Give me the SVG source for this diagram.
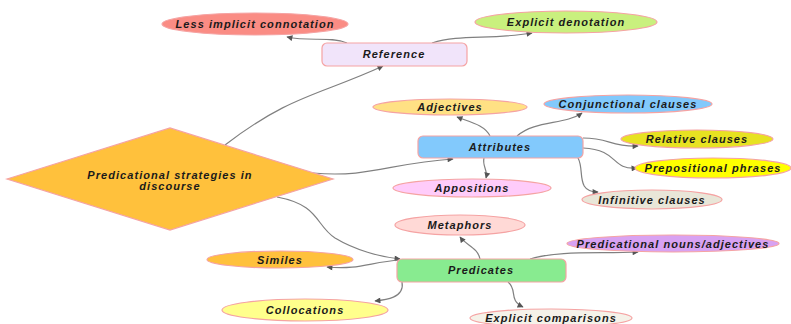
<svg xmlns="http://www.w3.org/2000/svg" width="791" height="324" viewBox="0 0 791 324">
<defs>
<style>
.n{stroke:#F5A3A3;stroke-width:1.2}
.t{font-family:"Liberation Sans",Arial,sans-serif;font-weight:bold;font-style:italic;font-size:11px;fill:#1a1a1a;text-anchor:middle;letter-spacing:1.05px}
.c{fill:none;stroke:#808080;stroke-width:1.2;marker-end:url(#ah)}
</style>
<marker id="ah" viewBox="0 0 10 10" refX="9" refY="5" markerWidth="7" markerHeight="6" orient="auto" markerUnits="userSpaceOnUse">
<path d="M0,0 L10,5 L0,10 z" fill="#555"/>
</marker>
</defs>
<rect width="791" height="324" fill="#fff"/>
<g id="connectors">
<path class="c" d="M225,145 C290,95 320,95 383,66"/>
<path class="c" d="M347,43 C330,36 310,42 287,37"/>
<path class="c" d="M432,43 C460,34 490,40 532,33"/>
<path class="c" d="M313,173 C370,178 390,163 453,159"/>
<path class="c" d="M490,136 C485,125 470,122 457,117"/>
<path class="c" d="M517,136 C535,120 565,125 582,113"/>
<path class="c" d="M583,138 C610,138 610,147 638,146"/>
<path class="c" d="M583,148 C620,150 610,170 637,168"/>
<path class="c" d="M484,158 C482,166 488,170 486,178"/>
<path class="c" d="M578,158 C585,170 575,192 598,192"/>
<path class="c" d="M277,197 C320,205 315,225 335,238 C355,250 380,257 400,259"/>
<path class="c" d="M480,259 C478,248 466,245 460,237"/>
<path class="c" d="M400,260 C370,262 360,270 327,267"/>
<path class="c" d="M402,282 C405,298 385,300 375,301"/>
<path class="c" d="M508,282 C518,290 508,300 523,307"/>
<path class="c" d="M530,259 C560,250 600,254 638,252"/>
</g>
<g id="diamond">
<polygon class="n" points="7,179 170,128 333,179 170,230" fill="#FFC13C"/>
<text class="t" x="170" y="179">Predicational strategies in</text>
<text class="t" x="170" y="190">discourse</text>
</g>
<g id="reference">
<rect class="n" x="322" y="43" width="145" height="23" rx="5" fill="#F1E4FA"/>
<text class="t" x="394" y="58">Reference</text>
</g>
<g id="less-implicit">
<ellipse class="n" cx="255" cy="24" rx="93" ry="11" fill="#FA8C84"/>
<text class="t" x="255" y="28">Less implicit connotation</text>
</g>
<g id="explicit-denotation">
<ellipse class="n" cx="566" cy="22" rx="91" ry="11" fill="#C9F07E"/>
<text class="t" x="566" y="26">Explicit denotation</text>
</g>
<g id="attributes">
<rect class="n" x="418" y="136" width="165" height="22" rx="5" fill="#82C9FC"/>
<text class="t" x="500" y="151">Attributes</text>
</g>
<g id="adjectives">
<ellipse class="n" cx="450" cy="107" rx="77" ry="8" fill="#FFE184"/>
<text class="t" x="450" y="111">Adjectives</text>
</g>
<g id="conjunctional">
<ellipse class="n" cx="628" cy="104" rx="84" ry="9" fill="#82C9FC"/>
<text class="t" x="628" y="108">Conjunctional clauses</text>
</g>
<g id="relative">
<ellipse class="n" cx="697" cy="139" rx="76" ry="9" fill="#E7E221"/>
<text class="t" x="697" y="143">Relative clauses</text>
</g>
<g id="prepositional">
<ellipse class="n" cx="713" cy="168" rx="78" ry="10" fill="#FFFF00"/>
<text class="t" x="713" y="172">Prepositional phrases</text>
</g>
<g id="appositions">
<ellipse class="n" cx="472" cy="188" rx="79" ry="9" fill="#FFCCFA"/>
<text class="t" x="472" y="192">Appositions</text>
</g>
<g id="infinitive">
<ellipse class="n" cx="652" cy="199.5" rx="70" ry="9.5" fill="#E9E6D8"/>
<text class="t" x="652" y="203.5">Infinitive clauses</text>
</g>
<g id="predicates">
<rect class="n" x="397" y="259" width="169" height="23" rx="5" fill="#88EB90"/>
<text class="t" x="481" y="274">Predicates</text>
</g>
<g id="metaphors">
<ellipse class="n" cx="460" cy="225" rx="65" ry="10" fill="#FFD9D6"/>
<text class="t" x="460" y="229">Metaphors</text>
</g>
<g id="similes">
<ellipse class="n" cx="280" cy="259.5" rx="73" ry="8.5" fill="#FFC13C"/>
<text class="t" x="280" y="263.5">Similes</text>
</g>
<g id="collocations">
<ellipse class="n" cx="305" cy="310" rx="83" ry="11" fill="#FFFF8C"/>
<text class="t" x="305" y="314">Collocations</text>
</g>
<g id="explicit-comparisons">
<ellipse class="n" cx="551" cy="318" rx="81" ry="9" fill="#F5F2E9"/>
<text class="t" x="551" y="322">Explicit comparisons</text>
</g>
<g id="predicational-nouns">
<ellipse class="n" cx="673" cy="243.5" rx="106" ry="8.5" fill="#D8A2F2"/>
<text class="t" x="673" y="247.5">Predicational nouns/adjectives</text>
</g>
</svg>
